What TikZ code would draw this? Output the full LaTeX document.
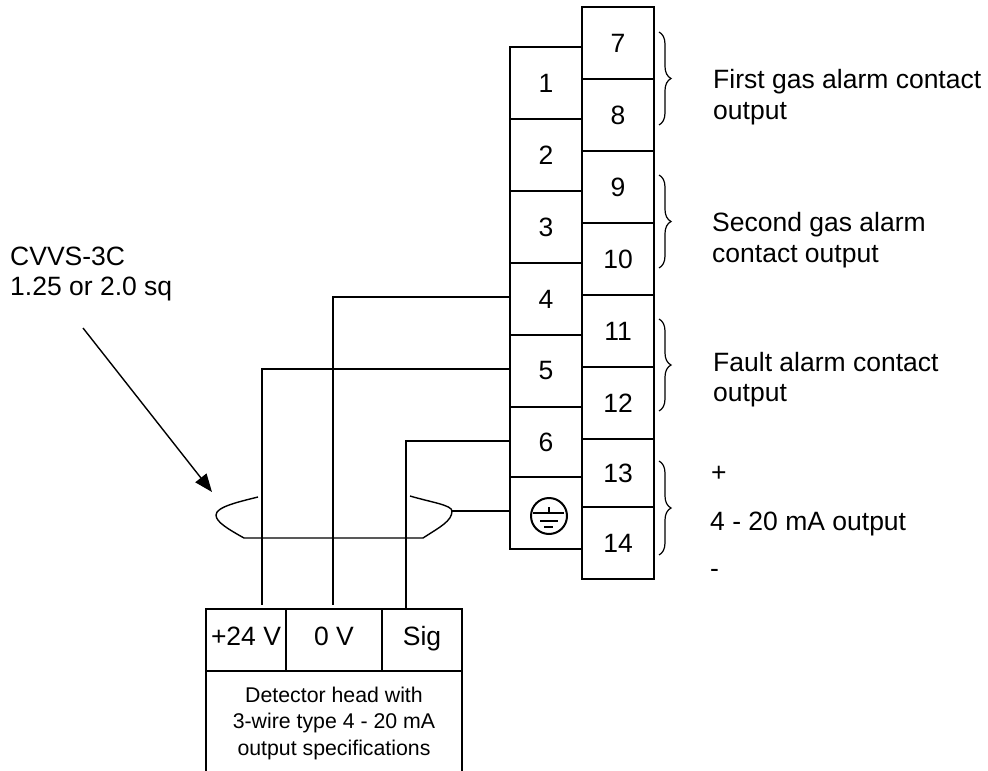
\documentclass[tikz,border=0pt]{standalone}
\usepackage{fontspec}
\setmainfont{Liberation Sans}
\usetikzlibrary{arrows.meta,decorations.pathreplacing}
\tikzset{
    tcell/.style={draw,line width=1.5pt,inner sep=0pt,outer sep=0pt,minimum width=72pt,font=\fontsize{26.5}{26.5}\selectfont},
    pincell/.style={draw,line width=1.5pt,inner sep=0pt,outer sep=0pt,minimum height=62pt,text height=18pt,text depth=7pt,font=\fontsize{26.5}{26.5}\selectfont},
    wire/.style={line width=1.4pt},
    gbrace/.style={line width=1.2pt,decorate,decoration={brace,amplitude=12pt}},
    lbl/.style={anchor=west,align=left,inner sep=0pt,font=\fontsize{26.5}{30.5}\selectfont}
}
\begin{document}
\begin{tikzpicture}[x=1pt,y=-1pt]
    \useasboundingbox (0,0) rectangle (988,771);
    % Right terminal column
    \node[tcell,minimum height=72pt] (t7) at (618,43) {7};
    \node[tcell,minimum height=72pt] (t8) at (618,115) {8};
    \node[tcell,minimum height=72pt] (t9) at (618,187) {9};
    \node[tcell,minimum height=72pt] (t10) at (618,259) {10};
    \node[tcell,minimum height=72pt] (t11) at (618,331) {11};
    \node[tcell,minimum height=72pt] (t12) at (618,403) {12};
    \node[tcell,minimum height=68pt] (t13) at (618,473) {13};
    \node[tcell,minimum height=72pt] (t14) at (618,543) {14};
    % Left terminal column
    \node[tcell,minimum height=72pt] (t1) at (546,83) {1};
    \node[tcell,minimum height=72pt] (t2) at (546,155) {2};
    \node[tcell,minimum height=72pt] (t3) at (546,227) {3};
    \node[tcell,minimum height=72pt] (t4) at (546,299) {4};
    \node[tcell,minimum height=72pt] (t5) at (546,371) {5};
    \node[tcell,minimum height=70pt] (t6) at (546,442) {6};
    \node[tcell,minimum height=72pt] (tg) at (546,513) {};
    % Earth symbol
    \node[draw,circle,line width=2pt,minimum size=36pt,inner sep=0pt] (earth) at (549,516) {};
    \draw[line width=2pt] (549,507) -- (549,513);
    \draw[line width=2pt] (533,513) -- (564,513);
    \draw[line width=2pt] (540,521) -- (558,521);
    \draw[line width=2pt] (544,527) -- (553,527);
    % Detector head
    \node[pincell,minimum width=80pt] (p24) at (246,640) {+24 V};
    \node[pincell,minimum width=96pt] (p0) at (334,640) {0 V};
    \node[pincell,minimum width=80pt] (psig) at (422,640) {Sig};
    \draw[line width=1.5pt] (p24.south west) -- (206,771);
    \draw[line width=1.5pt] (psig.south east) -- (462,771);
    \node[align=center,inner sep=0pt,font=\fontsize{21.3}{26.5}\selectfont] (head) at (334,723) {Detector head with\\3-wire type 4 - 20 mA\\output specifications};
    % Wires
    \coordinate (e24) at (262,605);
    \coordinate (e0) at (333,605);
    \coordinate (esig) at (406,609);
    \draw[wire] ([yshift=2pt]t4.west) -| (e0);
    \draw[wire] ([yshift=2pt]t5.west) -| (e24);
    \draw[wire] ([yshift=1pt]t6.west) -| (esig);
    % Cable sheath
    \coordinate (cl) at (244,538);
    \coordinate (cr) at (423,538);
    \coordinate (ce) at (452,511);
    \draw[wire] (258,497) .. controls (238,502) and (216,507) .. (216,515) .. controls (216,522) and (228,529) .. (cl) -- (cr) .. controls (440,527) and (452,521) .. (ce) .. controls (452,505) and (430,502) .. (410,496);
    \draw[wire] ([yshift=2pt]tg.west) -- (ce);
    % Cable label
    \node[lbl] (cable) at (10,274) {CVVS-3C\\1.25 or 2.0 sq};
    \coordinate (as) at (83,328);
    \coordinate (ae) at (212,492);
    \draw[-{Triangle[length=18pt,width=14pt]},line width=1.4pt] (as) -- (ae);
    % Braces
    \draw[gbrace] (659,32) -- (659,125);
    \draw[gbrace] (659,175) -- (659,268);
    \draw[gbrace] (659,319) -- (659,411);
    \draw[gbrace] (659,461) -- (659,555);
    % Output labels
    \node[lbl] (first) at (713,97) {First gas alarm contact\\output};
    \node[lbl] (second) at (712,240) {Second gas alarm\\contact output};
    \node[lbl] (fault) at (713,379.5) {Fault alarm contact\\output};
    \node[lbl] (plus) at (711,474) {+};
    \node[lbl] (ma) at (710,524) {4 - 20 mA output};
    \node[lbl] (minus) at (710,573) {-};
\end{tikzpicture}
\end{document}
